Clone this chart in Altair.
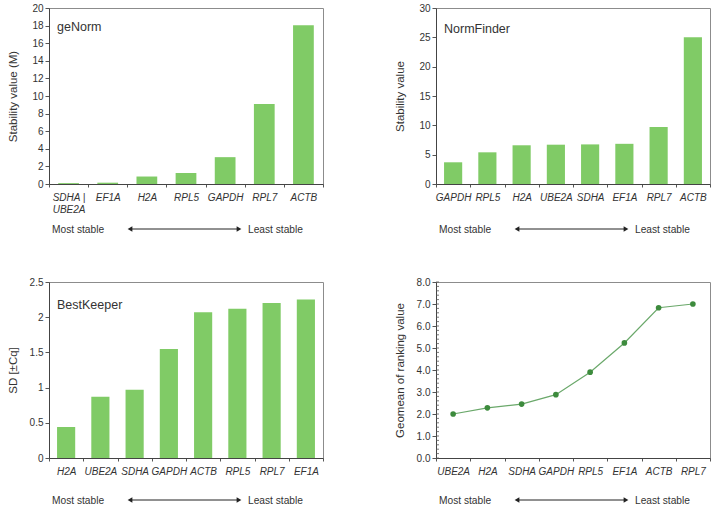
import altair as alt
import pandas as pd

# ---------------- data ----------------
genorm_genes = ["SDHA | UBE2A", "EF1A", "H2A", "RPL5", "GAPDH", "RPL7", "ACTB"]
genorm_vals = [0.10, 0.15, 0.85, 1.25, 3.05, 9.10, 18.05]

nf_genes = ["GAPDH", "RPL5", "H2A", "UBE2A", "SDHA", "EF1A", "RPL7", "ACTB"]
nf_vals = [3.7, 5.4, 6.6, 6.7, 6.75, 6.85, 9.7, 25.0]

bk_genes = ["H2A", "UBE2A", "SDHA", "GAPDH", "ACTB", "RPL5", "RPL7", "EF1A"]
bk_vals = [0.44, 0.87, 0.97, 1.55, 2.07, 2.12, 2.20, 2.25]

gm_genes = ["UBE2A", "H2A", "SDHA", "GAPDH", "RPL5", "EF1A", "ACTB", "RPL7"]
gm_vals = [2.00, 2.28, 2.45, 2.88, 3.90, 5.23, 6.83, 7.00]

genorm_ticks = [0, 2, 4, 6, 8, 10, 12, 14, 16, 18, 20]
nf_ticks = [0, 5, 10, 15, 20, 25, 30]
bk_ticks = [0, 0.5, 1, 1.5, 2, 2.5]
gm_ticks = [0, 1, 2, 3, 4, 5, 6, 7, 8]
gm_minor = [round(i * 0.2, 1) for i in range(41)]

W, H = 274, 176
FONT = "Liberation Sans"
BAR = "#80cb66"
TXT = "#333333"
LBL = 10
GM_TITLE = "Geomean of ranking value"


def x_enc(genes):
    return alt.X(
        "gene:N", sort=genes, title=None,
        scale=alt.Scale(type="band", paddingInner=0, paddingOuter=0),
        axis=alt.Axis(
            labelAngle=0, tickBand="extent", labelFontStyle="italic",
            labelExpr="datum.label == 'SDHA | UBE2A' ? ['SDHA |', 'UBE2A'] : datum.label",
            labelPadding=5, tickSize=3, labelFontSize=LBL,
        ),
    )


def annotations(name, name_y, off):
    one = pd.DataFrame({"a": [0]})
    base = alt.Chart(one)
    label = base.mark_text(text=name, align="left", baseline="middle",
                           font=FONT, fontSize=12.5, color=TXT).encode(
        x=alt.value(8), y=alt.value(name_y))
    most = base.mark_text(text="Most stable", align="left", baseline="middle",
                          font=FONT, fontSize=10.2, color=TXT).encode(
        x=alt.value(3), y=alt.value(H + off))
    least = base.mark_text(text="Least stable", align="left", baseline="middle",
                           font=FONT, fontSize=10.2, color=TXT).encode(
        x=alt.value(199), y=alt.value(H + off))
    line = base.mark_rule(color="#222222", strokeWidth=1).encode(
        x=alt.value(82), x2=alt.value(189), y=alt.value(H + off - 1))
    lhead = base.mark_point(shape="triangle-left", filled=True, size=30,
                            color="#222222", opacity=1).encode(
        x=alt.value(81), y=alt.value(H + off - 1))
    rhead = base.mark_point(shape="triangle-right", filled=True, size=30,
                            color="#222222", opacity=1).encode(
        x=alt.value(190), y=alt.value(H + off - 1))
    layers = [most, least, line, lhead, rhead]
    if name:
        layers = [label] + layers
    return layers


def bar_panel(genes, vals, ticks, ytitle, name, name_y, tpad, off):
    df = pd.DataFrame({"gene": genes, "val": vals})
    bars = alt.Chart(df).mark_bar(color=BAR, width=alt.RelativeBandSize(0.53)).encode(
        x=x_enc(genes),
        y=alt.Y("val:Q", title=ytitle,
                scale=alt.Scale(domain=[ticks[0], ticks[-1]], nice=False),
                axis=alt.Axis(values=ticks, format="~g", titlePadding=tpad,
                              tickSize=4, labelPadding=2)),
    )
    return alt.layer(bars, *annotations(name, name_y, off)).properties(width=W, height=H)


p1 = bar_panel(genorm_genes, genorm_vals, genorm_ticks, "Stability value (M)", "geNorm", 19, 13, 46)
p2 = bar_panel(nf_genes, nf_vals, nf_ticks, "Stability value", "NormFinder", 21, 13, 46)
p3 = bar_panel(bk_genes, bk_vals, bk_ticks, "SD [±Cq]", "BestKeeper", 23, 11, 43)

gaxis = alt.Axis(values=gm_ticks, format=".1f", titlePadding=11, tickSize=4, labelPadding=2)
gscale = alt.Scale(domain=[0, 8], nice=False)
gdf = pd.DataFrame({"gene": gm_genes, "val": gm_vals})
gy = alt.Y("val:Q", title=GM_TITLE, scale=gscale, axis=gaxis)
gline = alt.Chart(gdf).mark_line(color="#6aa86a", strokeWidth=1.2).encode(
    x=x_enc(gm_genes), y=gy)
gpts = alt.Chart(gdf).mark_point(filled=True, size=32, color="#3d8b3d", opacity=1).encode(
    x=x_enc(gm_genes), y=gy)
minor = alt.Chart(pd.DataFrame({"val": gm_minor})).mark_rule(color="#555555", strokeWidth=0.8).encode(
    y=alt.Y("val:Q", title=GM_TITLE, scale=gscale, axis=gaxis),
    x=alt.value(0), x2=alt.value(3))
p4 = alt.layer(gline, gpts, minor, *annotations("", 0, 43)).properties(width=W, height=H)

chart = alt.concat(p1, p2, p3, p4, columns=2, spacing={"row": 40, "column": 69}).properties(
    padding={"left": 6, "top": 2, "right": 0, "bottom": 0}
).configure_view(stroke="#8c8c8c", strokeWidth=1).configure_axis(
    grid=False, labelFont=FONT, labelFontSize=LBL, labelColor=TXT,
    titleFont=FONT, titleFontSize=11.5, titleFontWeight="normal", titleColor=TXT,
    tickColor="#555555", domainColor="#444444",
).configure_text(font=FONT)

chart.save("out.html", embed_options={"renderer": "svg", "actions": False})
